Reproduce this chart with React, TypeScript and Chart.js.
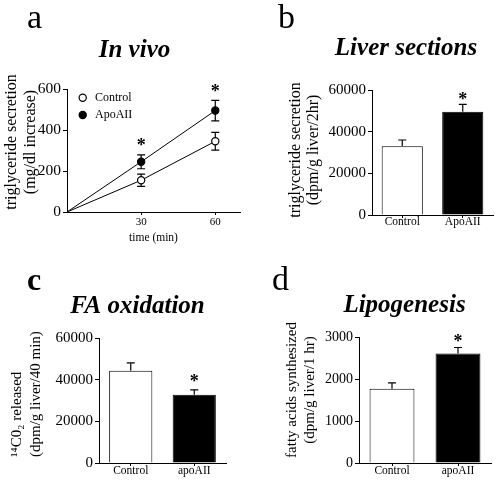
import React, { useEffect, useRef } from "react";
import { Chart, registerables } from "chart.js";

Chart.register(...registerables);

const SERIF = "'Liberation Serif', 'Times New Roman', Times, serif";

// ---------- Panel a: In vivo ----------
const timeMin = [0, 30, 60];
const timeTicks = [30, 60];
const ctlTG = [0, 155, 345];
const ctlTGErr = [0, 30, 43];
const apoTG = [0, 245, 495];
const apoTGErr = [0, 34, 50];
const tgTicks = [0, 200, 400, 600];
const starsA = [false, true, true];

// ---------- Panel b: Liver sections ----------
const catsB = ["Control", "ApoAII"];
const liverTG = [33000, 49600];
const liverTGErr = [3000, 3500];
const ticksB = [0, 20000, 40000, 60000];
const starsB = [false, true];

// ---------- Panel c: FA oxidation ----------
const catsC = ["Control", "apoAII"];
const faOx = [44300, 32800];
const faOxErr = [3800, 2300];
const ticksC = [0, 20000, 40000, 60000];
const starsC = [false, true];

// ---------- Panel d: Lipogenesis ----------
const catsD = ["Control", "apoAII"];
const lipo = [1770, 2610];
const lipoErr = [140, 140];
const ticksD = [0, 1000, 2000, 3000];
const starsD = [false, true];

type ErrSpec = {
  datasetIndex: number;
  errors: number[];
  both: boolean;
  stars: boolean[];
  starGap: number;
  cap: number;
};

function drawErr(chart: any, s: ErrSpec) {
  const ctx = chart.ctx;
  const meta = chart.getDatasetMeta(s.datasetIndex);
  const yScale = chart.scales.y;
  ctx.save();
  ctx.strokeStyle = "#000";
  ctx.lineWidth = 1.2;
  meta.data.forEach((el: any, i: number) => {
    const e = s.errors[i];
    if (!e) return;
    const v = meta.controller.getParsed(i).y;
    const yTop = yScale.getPixelForValue(v + e);
    const yBot = s.both ? yScale.getPixelForValue(v - e) : el.y;
    const x = el.x;
    ctx.beginPath();
    ctx.moveTo(x, yTop);
    ctx.lineTo(x, yBot);
    ctx.moveTo(x - s.cap / 2, yTop);
    ctx.lineTo(x + s.cap / 2, yTop);
    if (s.both) {
      ctx.moveTo(x - s.cap / 2, yBot);
      ctx.lineTo(x + s.cap / 2, yBot);
    }
    ctx.stroke();
  });
  ctx.restore();
}

function drawStars(chart: any, s: ErrSpec) {
  const ctx = chart.ctx;
  const meta = chart.getDatasetMeta(s.datasetIndex);
  const yScale = chart.scales.y;
  ctx.save();
  ctx.fillStyle = "#000";
  ctx.font = "bold 18px " + SERIF;
  ctx.textAlign = "center";
  ctx.textBaseline = "alphabetic";
  const m = ctx.measureText("*");
  const mid = (m.actualBoundingBoxAscent - m.actualBoundingBoxDescent) / 2;
  meta.data.forEach((el: any, i: number) => {
    if (!s.stars[i]) return;
    const v = meta.controller.getParsed(i).y;
    const yTop = yScale.getPixelForValue(v + (s.errors[i] || 0));
    ctx.fillText("*", el.x, yTop - s.starGap + mid);
  });
  ctx.restore();
}

const makeErrorPlugin = (specs: ErrSpec[]) => ({
  id: "errorBars",
  beforeDatasetsDraw(chart: any) {
    specs.forEach((s) => {
      if (s.both) drawErr(chart, s);
    });
  },
  afterDatasetsDraw(chart: any) {
    specs.forEach((s) => {
      if (!s.both) drawErr(chart, s);
      drawStars(chart, s);
    });
  },
});

type Decor = {
  letter: { text: string; x: number; y: number; font: string };
  title: { text: string; x: number; y: number; font: string };
  yTitle: { lines: string[]; xs: number[]; y: number; align: CanvasTextAlign; font: string };
  legend?: { x: number; ys: number[]; r: number; textDx: number; font: string };
};

const makeDecorPlugin = (d: Decor) => ({
  id: "decor",
  afterDraw(chart: any) {
    const ctx = chart.ctx;
    ctx.save();
    ctx.fillStyle = "#000";
    ctx.textBaseline = "alphabetic";
    ctx.textAlign = "left";
    ctx.font = d.letter.font;
    ctx.fillText(d.letter.text, d.letter.x, d.letter.y);
    ctx.textAlign = "center";
    ctx.font = d.title.font;
    ctx.fillText(d.title.text, d.title.x, d.title.y);
    // rotated y title
    ctx.font = d.yTitle.font;
    ctx.textAlign = d.yTitle.align;
    ctx.textBaseline = "middle";
    d.yTitle.lines.forEach((line, i) => {
      ctx.save();
      ctx.translate(d.yTitle.xs[i], d.yTitle.y);
      ctx.rotate(-Math.PI / 2);
      ctx.fillText(line, 0, 0);
      ctx.restore();
    });
    // legend
    if (d.legend) {
      const lg = d.legend;
      chart.data.datasets.forEach((ds: any, i: number) => {
        const cy = lg.ys[i];
        ctx.beginPath();
        ctx.arc(lg.x, cy, lg.r, 0, Math.PI * 2);
        ctx.fillStyle = ds.pointBackgroundColor;
        ctx.fill();
        ctx.lineWidth = ds.pointBorderWidth || 1;
        ctx.strokeStyle = ds.pointBorderColor || "#000";
        ctx.stroke();
        ctx.fillStyle = "#000";
        ctx.font = lg.font;
        ctx.textAlign = "left";
        ctx.textBaseline = "middle";
        ctx.fillText(ds.label, lg.x + lg.textDx, cy);
      });
    }
    ctx.restore();
  },
});

const axisLine = { display: true, color: "#000", width: 1 };

const yLinear = (ticksArr: number[], fontSize: number, width: number) => ({
  type: "linear",
  position: "left",
  min: ticksArr[0],
  max: ticksArr[ticksArr.length - 1],
  afterBuildTicks: (s: any) => {
    s.ticks = ticksArr.map((v) => ({ value: v }));
  },
  afterFit: (s: any) => {
    s.width = width;
  },
  border: axisLine,
  grid: { drawOnChartArea: false, drawTicks: true, tickLength: 4, tickColor: "#000", tickWidth: 1 },
  ticks: {
    color: "#000",
    font: { family: SERIF, size: fontSize },
    padding: 2,
    callback: (v: any) => String(v),
  },
});

const xCategory = (height: number, pad: number) => ({
  type: "category",
  offset: true,
  afterFit: (s: any) => {
    s.height = height;
  },
  border: axisLine,
  grid: { drawOnChartArea: false, offset: false, drawTicks: true, tickLength: 3, tickColor: "#000", tickWidth: 1 },
  ticks: { color: "#000", font: { family: SERIF, size: 11.5 }, padding: pad, maxRotation: 0 },
});

const baseOptions = (padding: any) => ({
  responsive: false,
  animation: false,
  devicePixelRatio: 1,
  events: [],
  layout: { padding },
  plugins: { legend: { display: false }, title: { display: false }, tooltip: { enabled: false } },
});

const TITLE_FONT = "italic bold 25px " + SERIF;
const LETTER_FONT = "34px " + SERIF;

function makeA(canvas: HTMLCanvasElement) {
  const pts = (ys: number[]) => timeMin.map((t, i) => ({ x: t, y: ys[i] }));
  return new Chart(canvas, {
    type: "line",
    data: {
      datasets: [
        {
          label: "Control",
          data: pts(ctlTG),
          borderColor: "#000",
          borderWidth: 1,
          pointBackgroundColor: "#fff",
          pointBorderColor: "#000",
          pointBorderWidth: 1.2,
          pointRadius: [0, 3.6, 3.6],
          tension: 0,
        },
        {
          label: "ApoAII",
          data: pts(apoTG),
          borderColor: "#000",
          borderWidth: 1,
          pointBackgroundColor: "#000",
          pointBorderColor: "#000",
          pointBorderWidth: 1.2,
          pointRadius: [0, 3.6, 3.6],
          tension: 0,
        },
      ],
    },
    options: {
      ...baseOptions({ left: 0, top: 89, right: 258, bottom: 235 }),
      scales: {
        x: {
          type: "linear",
          min: 0,
          max: 70,
          afterBuildTicks: (s: any) => {
            s.ticks = timeTicks.map((v) => ({ value: v }));
          },
          afterFit: (s: any) => {
            s.height = 33;
          },
          border: axisLine,
          grid: { drawOnChartArea: false, drawTicks: true, tickLength: 3, tickColor: "#000", tickWidth: 1 },
          ticks: { color: "#000", font: { family: SERIF, size: 11 }, padding: 1, maxRotation: 0 },
          title: { display: true, text: "time (min)", color: "#000", font: { family: SERIF, size: 11.5 }, padding: 0 },
        },
        y: yLinear(tgTicks, 15.5, 67),
      },
    } as any,
    plugins: [
      makeErrorPlugin([
        { datasetIndex: 0, errors: ctlTGErr, both: true, stars: [false, false, false], starGap: 12, cap: 8 },
        { datasetIndex: 1, errors: apoTGErr, both: true, stars: starsA, starGap: 12.5, cap: 8 },
      ]),
      makeDecorPlugin({
        letter: { text: "a", x: 27, y: 28, font: LETTER_FONT },
        title: { text: "In vivo", x: 134.5, y: 57, font: TITLE_FONT },
        yTitle: {
          lines: ["triglyceride secretion", "(mg/dl increase)"],
          xs: [12, 31],
          y: 142,
          align: "center",
          font: "16px " + SERIF,
        },
        legend: { x: 82.7, ys: [97.7, 115], r: 3.6, textDx: 12.3, font: "12px " + SERIF },
      }),
    ],
  } as any);
}

function makeBar(
  canvas: HTMLCanvasElement,
  cats: string[],
  values: number[],
  errs: number[],
  stars: boolean[],
  ticksArr: number[],
  tickFont: number,
  padding: any,
  xPad: number,
  starGap: number,
  decor: Decor
) {
  return new Chart(canvas, {
    type: "bar",
    data: {
      labels: cats,
      datasets: [
        {
          label: "value",
          data: values,
          backgroundColor: ["#fff", "#000"],
          borderColor: "#000",
          borderWidth: 1,
          barPercentage: 0.68,
          categoryPercentage: 1,
        },
      ],
    },
    options: {
      ...baseOptions(padding),
      scales: {
        x: xCategory(15, xPad),
        y: yLinear(ticksArr, tickFont, 60),
      },
    } as any,
    plugins: [
      makeErrorPlugin([{ datasetIndex: 0, errors: errs, both: false, stars, starGap, cap: 8 }]),
      makeDecorPlugin(decor),
    ],
  } as any);
}

function makeB(canvas: HTMLCanvasElement) {
  return makeBar(canvas, catsB, liverTG, liverTGErr, starsB, ticksB, 15,
    { left: 312, top: 90, right: 5, bottom: 250 }, -3, 8.5, {
      letter: { text: "b", x: 278, y: 28, font: LETTER_FONT },
      title: { text: "Liver sections", x: 406, y: 55, font: TITLE_FONT },
      yTitle: {
        lines: ["triglyceride secretion", "(dpm/g liver/2hr)"],
        xs: [296, 314],
        y: 150,
        align: "center",
        font: "16px " + SERIF,
      },
    });
}

function makeC(canvas: HTMLCanvasElement) {
  return makeBar(canvas, catsC, faOx, faOxErr, starsC, ticksC, 15,
    { left: 39, top: 338, right: 272, bottom: 2 }, -2, 12, {
      letter: { text: "c", x: 27, y: 290, font: "bold 32px " + SERIF },
      title: { text: "FA oxidation", x: 137.5, y: 313, font: TITLE_FONT },
      yTitle: {
        lines: ["\u00B9\u2074C0\u2082 released", "(dpm/g liver/40 min)"],
        xs: [17.5, 36],
        y: 457,
        align: "left",
        font: "15px " + SERIF,
      },
    });
}

function makeD(canvas: HTMLCanvasElement) {
  return makeBar(canvas, catsD, lipo, lipoErr, starsD, ticksD, 14,
    { left: 299, top: 337, right: 7, bottom: 2 }, -2, 10, {
      letter: { text: "d", x: 272, y: 290, font: LETTER_FONT },
      title: { text: "Lipogenesis", x: 404.5, y: 312, font: TITLE_FONT },
      yTitle: {
        lines: ["fatty acids synthesized", "(dpm/g liver/1 hr)"],
        xs: [292, 310],
        y: 390,
        align: "center",
        font: "15px " + SERIF,
      },
    });
}

function ChartCanvas({ make }: { make: (c: HTMLCanvasElement) => Chart }) {
  const ref = useRef<HTMLCanvasElement>(null);
  useEffect(() => {
    const ch = make(ref.current as HTMLCanvasElement);
    return () => ch.destroy();
  }, []);
  return (
    <canvas
      ref={ref}
      width={498}
      height={480}
      style={{ position: "absolute", left: 0, top: 0, width: 498, height: 480 }}
    />
  );
}

export default function App() {
  return (
    <div style={{ position: "fixed", left: 0, top: 0, width: 498, height: 480, background: "#fff", overflow: "hidden" }}>
      <ChartCanvas make={makeA} />
      <ChartCanvas make={makeB} />
      <ChartCanvas make={makeC} />
      <ChartCanvas make={makeD} />
    </div>
  );
}
